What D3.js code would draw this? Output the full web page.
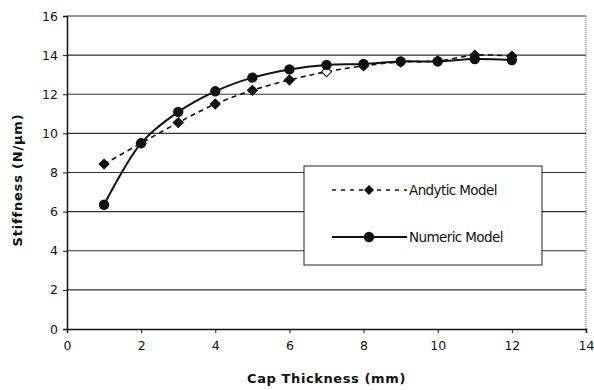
<!DOCTYPE html>
<html><head><meta charset="utf-8">
<script src="https://cdn.jsdelivr.net/npm/d3@7"></script>
<style>body{margin:0;background:#fff}svg{display:block}</style>
</head><body>
<svg id="c" width="594" height="390"></svg>
<script>
const thickness = [1,2,3,4,5,6,7,8,9,10,11,12];
const analytic = [8.43,9.5,10.55,11.5,12.2,12.73,13.15,13.45,13.65,13.7,14.0,13.95];
const numeric  = [6.35,9.5,11.1,12.15,12.85,13.27,13.5,13.55,13.68,13.68,13.8,13.75];
const xTicks = [0,2,4,6,8,10,12,14];
const yTicks = [0,2,4,6,8,10,12,14,16];
const seriesNames = ["Andytic Model","Numeric Model"];

const svg = d3.select("#c");
const L=67, R=586, T=16, B=329;
const x = d3.scaleLinear().domain([0,14]).range([L,R]);
const y = d3.scaleLinear().domain([0,16]).range([B,T]);
const font = "'DejaVu Sans', sans-serif";

// gridlines
svg.append("g").selectAll("line").data(yTicks.filter(d=>d>0)).join("line")
  .attr("x1",L).attr("x2",R).attr("y1",d=>y(d)).attr("y2",d=>y(d))
  .attr("stroke","#333").attr("stroke-width",1.2);
// right border
svg.append("line").attr("x1",R).attr("x2",R).attr("y1",T).attr("y2",B)
  .attr("stroke","#666").attr("stroke-width",1).attr("stroke-dasharray","1,1");

// axes
const xAxis = d3.axisBottom(x).tickValues(xTicks).tickSize(4).tickPadding(8);
const gx = svg.append("g").attr("transform",`translate(0,${B})`).call(xAxis);
const yAxis = d3.axisLeft(y).tickValues(yTicks).tickSize(4).tickPadding(5);
const gy = svg.append("g").attr("transform",`translate(${L},0)`).call(yAxis);
[gx,gy].forEach(g=>{
  g.select(".domain").attr("stroke","#111").attr("stroke-width",1.5);
  g.selectAll(".tick line").attr("stroke","#111");
  g.selectAll("text").attr("font-family",font).attr("font-size",12.5).attr("fill","#111");
});

// lines
const ptsA = thickness.map((t,i)=>[t,analytic[i]]);
const ptsN = thickness.map((t,i)=>[t,numeric[i]]);
const lineA = d3.line().x(d=>x(d[0])).y(d=>y(d[1])).curve(d3.curveCatmullRom.alpha(0.5));
const lineN = d3.line().x(d=>x(d[0])).y(d=>y(d[1])).curve(d3.curveCatmullRom.alpha(0.5));
svg.append("path").attr("d",lineA(ptsA)).attr("fill","none").attr("stroke","#111")
  .attr("stroke-width",1.6).attr("stroke-dasharray","5,4");
svg.append("path").attr("d",lineN(ptsN)).attr("fill","none").attr("stroke","#111")
  .attr("stroke-width",2);

const diamond = d3.symbol().type(d3.symbolSquare).size(50);
svg.append("g").selectAll("path").data(ptsA).join("path")
  .attr("d",diamond).attr("transform",d=>`translate(${x(d[0])},${y(d[1])}) rotate(45)`)
  .attr("fill",(d,i)=>i===6?"#fff":"#111").attr("stroke","#111").attr("stroke-width",1);
svg.append("g").selectAll("circle").data(ptsN).join("circle")
  .attr("cx",d=>x(d[0])).attr("cy",d=>y(d[1])).attr("r",5.2).attr("fill","#111");

// legend
const lg = svg.append("g");
lg.append("rect").attr("x",304).attr("y",166).attr("width",238).attr("height",99)
  .attr("fill","#fff").attr("stroke","#222").attr("stroke-width",1);
const rows = [190,237];
lg.append("line").attr("x1",332).attr("x2",407).attr("y1",rows[0]).attr("y2",rows[0])
  .attr("stroke","#111").attr("stroke-width",1.6).attr("stroke-dasharray","4,5");
lg.append("path").attr("d",diamond).attr("transform",`translate(369,${rows[0]}) rotate(45)`).attr("fill","#111");
lg.append("line").attr("x1",332).attr("x2",407).attr("y1",rows[1]).attr("y2",rows[1])
  .attr("stroke","#111").attr("stroke-width",2);
lg.append("circle").attr("cx",369).attr("cy",rows[1]).attr("r",5.2).attr("fill","#111");
lg.selectAll("text.lt").data(seriesNames).join("text")
  .attr("x",409).attr("y",(d,i)=>rows[i]+5).text(d=>d)
  .attr("font-family",font).attr("font-size",13.5).attr("letter-spacing",-0.6).attr("fill","#111");

// axis titles
svg.append("text").attr("x",(L+R)/2).attr("y",383).attr("text-anchor","middle")
  .attr("font-family",font).attr("font-weight","bold").attr("font-size",13)
  .attr("letter-spacing",0.6).attr("fill","#111").text("Cap Thickness (mm)");
svg.append("text").attr("transform","translate(22,180) rotate(-90)").attr("text-anchor","middle")
  .attr("font-family",font).attr("font-weight","bold").attr("font-size",13)
  .attr("letter-spacing",0.8).attr("fill","#111").text("Stiffness (N/μm)");
</script>
</body></html>
